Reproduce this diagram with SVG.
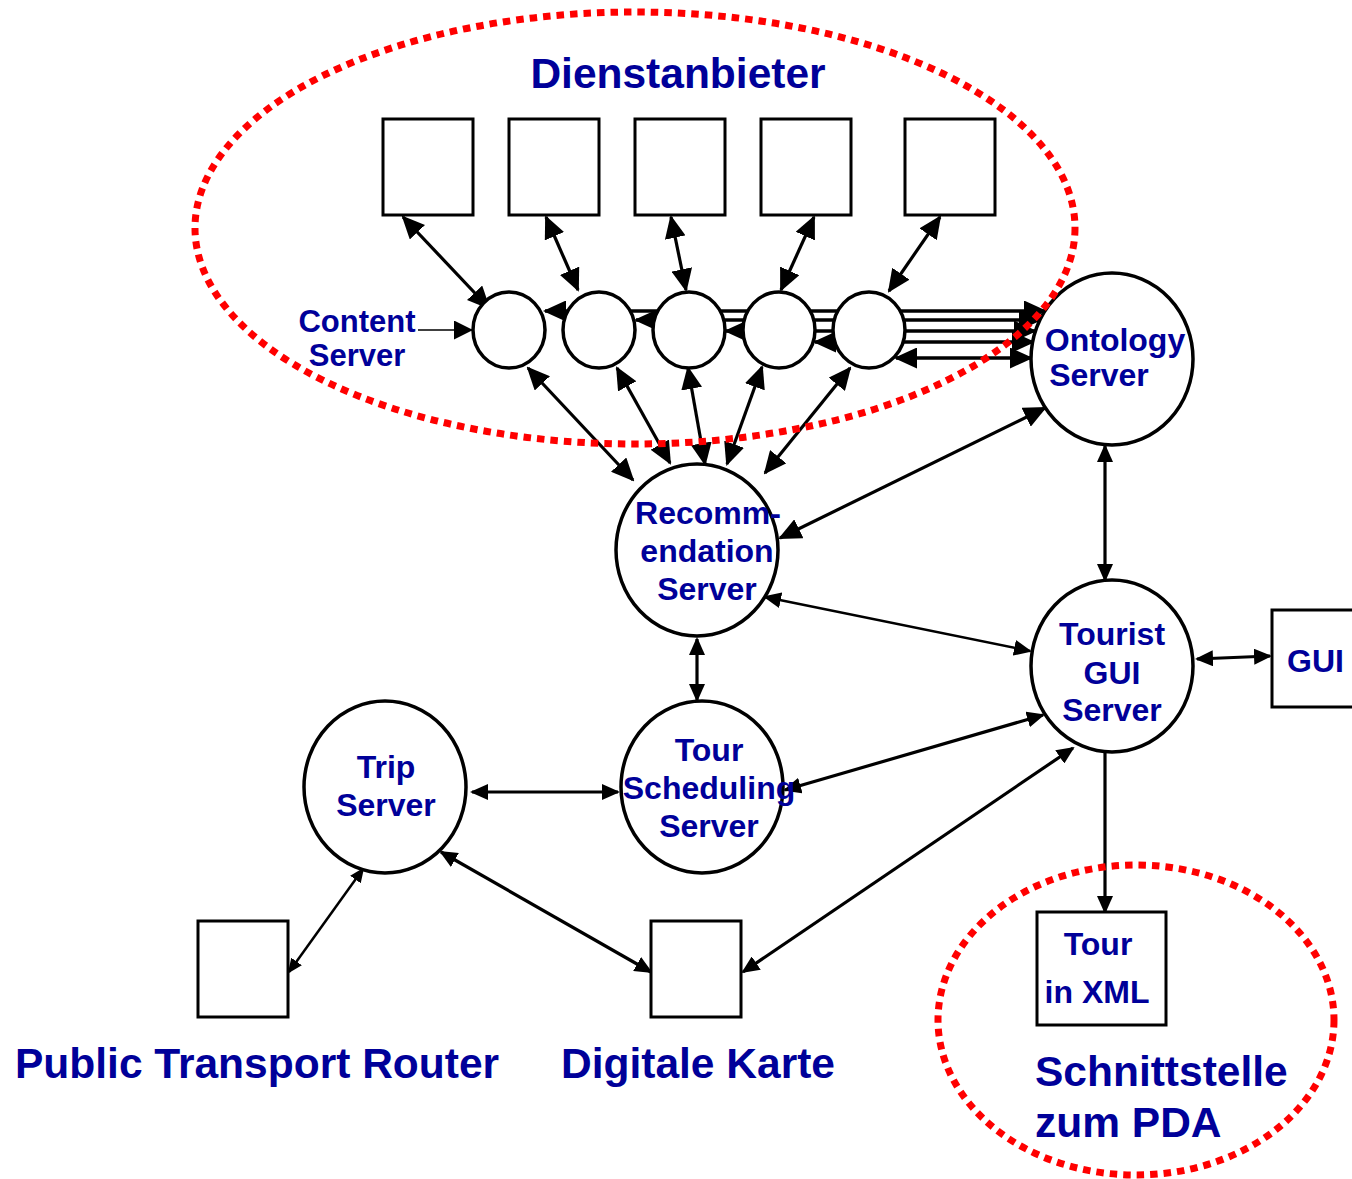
<svg xmlns="http://www.w3.org/2000/svg" width="1352" height="1179" viewBox="0 0 1352 1179">
  <style>
    .lbl { font-family: "Liberation Sans", Arial, sans-serif; font-weight: bold; fill: #000099; }
    .n { font-size: 32px; text-anchor: middle; }
    .big { font-size: 42.5px; }
    .node { fill: #ffffff; stroke: #000000; stroke-width: 3.5; }
    .box { fill: #ffffff; stroke: #000000; stroke-width: 3; }
    .c { fill: none; stroke: #000000; stroke-width: 3.2; }
    .thin { stroke-width: 2.5; }
    .zone { fill: none; stroke: #ff0000; stroke-width: 7; stroke-dasharray: 7.5 6; }
  </style>
  <defs>
    <marker id="ahL" viewBox="0 0 23 21" markerWidth="23" markerHeight="21" refX="21" refY="10.5" orient="auto-start-reverse" markerUnits="userSpaceOnUse">
      <path d="M0,0 L23,10.5 L0,21 z" fill="#000"/>
    </marker>
    <marker id="ahM" viewBox="0 0 18 16" markerWidth="18" markerHeight="16" refX="16" refY="8" orient="auto-start-reverse" markerUnits="userSpaceOnUse">
      <path d="M0,0 L18,8 L0,16 z" fill="#000"/>
    </marker>
    <marker id="ahS" viewBox="0 0 15 13" markerWidth="15" markerHeight="13" refX="13" refY="6.5" orient="auto-start-reverse" markerUnits="userSpaceOnUse">
      <path d="M0,0 L15,6.5 L0,13 z" fill="#000"/>
    </marker>
    <marker id="ahC" viewBox="0 0 19 19" markerWidth="19" markerHeight="19" refX="18" refY="9.5" orient="auto" markerUnits="userSpaceOnUse">
      <path d="M0,0 L19,9.5 L0,19 z" fill="#000"/>
    </marker>
  </defs>

  <!-- connectors -->
  <g id="connectors">
    <!-- provider boxes to content servers -->
    <line class="c" x1="403" y1="217" x2="489" y2="308" marker-start="url(#ahL)" marker-end="url(#ahL)"/>
    <line class="c" x1="546" y1="217" x2="578" y2="290" marker-start="url(#ahL)" marker-end="url(#ahL)"/>
    <line class="c" x1="671" y1="217" x2="686" y2="290" marker-start="url(#ahL)" marker-end="url(#ahL)"/>
    <line class="c" x1="814" y1="217" x2="781" y2="290" marker-start="url(#ahL)" marker-end="url(#ahL)"/>
    <line class="c" x1="940" y1="217" x2="889" y2="291" marker-start="url(#ahL)" marker-end="url(#ahL)"/>
    <!-- content servers to ontology server -->
    <line class="c" style="stroke-width:3.5" x1="545" y1="311" x2="1045" y2="311" marker-start="url(#ahL)" marker-end="url(#ahL)"/>
    <line class="c" style="stroke-width:3.5" x1="636" y1="320" x2="1040" y2="320" marker-start="url(#ahL)" marker-end="url(#ahL)"/>
    <line class="c" style="stroke-width:3.5" x1="726" y1="331" x2="1035" y2="331" marker-start="url(#ahL)" marker-end="url(#ahL)"/>
    <line class="c" style="stroke-width:3.5" x1="815" y1="342" x2="1033" y2="342" marker-start="url(#ahL)" marker-end="url(#ahL)"/>
    <line class="c" style="stroke-width:3.5" x1="896" y1="358" x2="1031" y2="358" marker-start="url(#ahL)" marker-end="url(#ahL)"/>
    <!-- content servers to recommendation server -->
    <line class="c" x1="528" y1="368" x2="633" y2="480" marker-start="url(#ahL)" marker-end="url(#ahL)"/>
    <line class="c" x1="617" y1="368" x2="670" y2="463" marker-start="url(#ahL)" marker-end="url(#ahL)"/>
    <line class="c" x1="688" y1="368" x2="705" y2="464" marker-start="url(#ahL)" marker-end="url(#ahL)"/>
    <line class="c" x1="762" y1="367" x2="727" y2="464" marker-start="url(#ahL)" marker-end="url(#ahL)"/>
    <line class="c" x1="850" y1="368" x2="765" y2="473" marker-start="url(#ahL)" marker-end="url(#ahL)"/>
    <!-- label pointer -->
    <line x1="418" y1="330" x2="472" y2="330" stroke="#000" stroke-width="1.5" marker-end="url(#ahC)"/>
    <!-- server links -->
    <line class="c" x1="1045" y1="408" x2="780" y2="538" marker-start="url(#ahL)" marker-end="url(#ahL)"/>
    <line class="c thin" x1="765" y1="597" x2="1030" y2="651" marker-start="url(#ahM)" marker-end="url(#ahM)"/>
    <line class="c" x1="1105" y1="446" x2="1105" y2="580" marker-start="url(#ahM)" marker-end="url(#ahM)"/>
    <line class="c" x1="697" y1="639" x2="697" y2="700" marker-start="url(#ahM)" marker-end="url(#ahM)"/>
    <line class="c" x1="1197" y1="659" x2="1270" y2="656" marker-start="url(#ahM)" marker-end="url(#ahM)"/>
    <line class="c" x1="785" y1="790" x2="1043" y2="715" marker-start="url(#ahM)" marker-end="url(#ahM)"/>
    <line class="c" x1="472" y1="792" x2="618" y2="792" marker-start="url(#ahM)" marker-end="url(#ahM)"/>
    <line class="c thin" x1="363" y1="869" x2="289" y2="972" marker-start="url(#ahS)" marker-end="url(#ahS)"/>
    <line class="c" x1="441" y1="852" x2="651" y2="972" marker-start="url(#ahM)" marker-end="url(#ahM)"/>
    <line class="c" x1="1073" y1="748" x2="743" y2="972" marker-start="url(#ahM)" marker-end="url(#ahM)"/>
    <line class="c" x1="1105" y1="748" x2="1105" y2="912" marker-end="url(#ahM)"/>
  </g>

  <!-- service providers -->
  <g id="provider-1"><rect class="box" x="383" y="119" width="90" height="96"/></g>
  <g id="provider-2"><rect class="box" x="509" y="119" width="90" height="96"/></g>
  <g id="provider-3"><rect class="box" x="635" y="119" width="90" height="96"/></g>
  <g id="provider-4"><rect class="box" x="761" y="119" width="90" height="96"/></g>
  <g id="provider-5"><rect class="box" x="905" y="119" width="90" height="96"/></g>

  <!-- content servers -->
  <g id="content-1"><ellipse class="node" cx="509" cy="330" rx="36" ry="38"/></g>
  <g id="content-2"><ellipse class="node" cx="599" cy="330" rx="36" ry="38"/></g>
  <g id="content-3"><ellipse class="node" cx="689" cy="330" rx="36" ry="38"/></g>
  <g id="content-4"><ellipse class="node" cx="779" cy="330" rx="36" ry="38"/></g>
  <g id="content-5"><ellipse class="node" cx="869" cy="330" rx="36" ry="38"/></g>

  <g id="content-label">
    <text class="lbl" x="357" y="332" font-size="31" text-anchor="middle">Content</text>
    <text class="lbl" x="357" y="366" font-size="31" text-anchor="middle">Server</text>
  </g>

  <g id="ontology-server">
    <ellipse class="node" cx="1112" cy="359" rx="81" ry="86"/>
    <text class="lbl n" x="1115" y="351">Ontology</text>
    <text class="lbl n" x="1099" y="386">Server</text>
  </g>

  <g id="recommendation-server">
    <ellipse class="node" cx="697" cy="550" rx="81" ry="86"/>
    <text class="lbl n" x="708" y="524">Recomm-</text>
    <text class="lbl n" x="707" y="562">endation</text>
    <text class="lbl n" x="707" y="600">Server</text>
  </g>

  <g id="tourist-gui-server">
    <ellipse class="node" cx="1112" cy="666" rx="81" ry="86"/>
    <text class="lbl n" x="1112" y="645">Tourist</text>
    <text class="lbl n" x="1112" y="684">GUI</text>
    <text class="lbl n" x="1112" y="721">Server</text>
  </g>

  <g id="gui">
    <rect class="box" x="1272" y="610" width="90" height="97"/>
    <text class="lbl" x="1287" y="672" font-size="32">GUI</text>
  </g>

  <g id="tour-scheduling-server">
    <ellipse class="node" cx="702" cy="787" rx="81" ry="86"/>
    <text class="lbl n" x="709" y="761">Tour</text>
    <text class="lbl n" x="709" y="799">Scheduling</text>
    <text class="lbl n" x="709" y="837">Server</text>
  </g>

  <g id="trip-server">
    <ellipse class="node" cx="385" cy="787" rx="81" ry="86"/>
    <text class="lbl n" x="386" y="778">Trip</text>
    <text class="lbl n" x="386" y="816">Server</text>
  </g>

  <g id="public-transport-router">
    <rect class="box" x="198" y="921" width="90" height="96"/>
    <text class="lbl big" x="15" y="1078">Public Transport Router</text>
  </g>

  <g id="digitale-karte">
    <rect class="box" x="651" y="921" width="90" height="96"/>
    <text class="lbl big" x="561" y="1078">Digitale Karte</text>
  </g>

  <g id="tour-xml">
    <rect class="box" x="1037" y="912" width="129" height="113"/>
    <text class="lbl n" x="1098" y="955">Tour</text>
    <text class="lbl n" x="1097" y="1003">in XML</text>
  </g>

  <!-- grouping zones -->
  <g id="dienstanbieter">
    <ellipse class="zone" cx="635" cy="228" rx="440" ry="216"/>
    <text class="lbl big" x="678" y="88" text-anchor="middle">Dienstanbieter</text>
  </g>

  <g id="pda-interface">
    <ellipse class="zone" cx="1136" cy="1020" rx="198" ry="155"/>
    <text class="lbl big" x="1035" y="1086">Schnittstelle</text>
    <text class="lbl big" x="1035" y="1137">zum PDA</text>
  </g>
</svg>
